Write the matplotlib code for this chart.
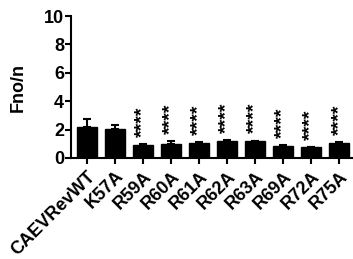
import matplotlib
matplotlib.use("Agg")
import matplotlib.pyplot as plt
import numpy as np

categories = ["CAEVRevWT", "K57A", "R59A", "R60A", "R61A", "R62A", "R63A", "R69A", "R72A", "R75A"]
values = [2.18, 2.04, 0.92, 1.0, 1.05, 1.2, 1.17, 0.87, 0.75, 1.03]
errors = [0.55, 0.25, 0.05, 0.17, 0.08, 0.08, 0.06, 0.04, 0.03, 0.07]
stars = ["", "", "****", "****", "****", "****", "****", "****", "****", "****"]

plt.rcParams['font.family'] = ['Liberation Sans', 'DejaVu Sans']
plt.rcParams['font.weight'] = 'bold'

fig = plt.figure(figsize=(3.53, 2.59), dpi=100)
ax = fig.add_axes([0.201, 0.39, 0.796, 0.548])

x = np.arange(len(categories))
ax.bar(x, values, width=0.72, color='black', edgecolor='black', zorder=2)
ax.errorbar(x, values, yerr=[np.zeros(len(errors)), errors], fmt='none',
            ecolor='black', elinewidth=1.5, capsize=3, capthick=1.5, zorder=1)

for xi, v, e, s in zip(x, values, errors, stars):
    if s:
        ax.text(xi, v + e + 0.5, s, rotation=90, ha='center', va='bottom',
                fontsize=14, fontweight='bold')

ax.set_xlim(-0.57, 9.46)
ax.set_ylim(0, 10)
ax.set_yticks([0, 2, 4, 6, 8, 10])
ax.set_xticks(x)
ax.set_xticklabels(categories, rotation=45, ha='right', rotation_mode='anchor',
                   fontsize=13, fontweight='bold')
for lab in ax.get_yticklabels():
    lab.set_fontsize(13)
    lab.set_fontweight('bold')
ax.set_ylabel("Fno/n", fontsize=13, fontweight='bold', labelpad=12)

ax.spines['top'].set_visible(False)
ax.spines['right'].set_visible(False)
ax.spines['left'].set_linewidth(1.5)
ax.spines['bottom'].set_linewidth(1.5)
ax.tick_params(axis='y', width=1.5, length=4, pad=1)
ax.tick_params(axis='x', width=1.5, length=4, pad=3)

fig.savefig("out.png", dpi=100)
